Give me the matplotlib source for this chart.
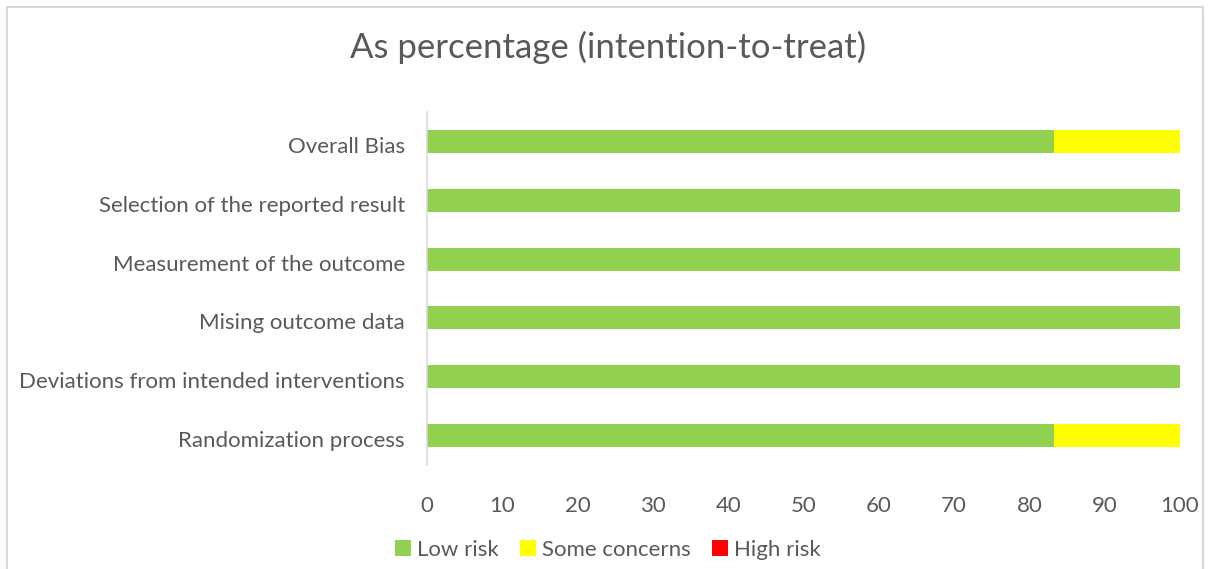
import matplotlib
matplotlib.use("Agg")
import matplotlib.pyplot as plt
import matplotlib.transforms as mtransforms
from matplotlib.patches import Rectangle, Patch

plt.rcParams['font.family'] = ['Lato', 'DejaVu Sans']

domains = ["Randomization process", "Deviations from intended interventions",
           "Mising outcome data", "Measurement of the outcome",
           "Selection of the reported result", "Overall Bias"]
low_risk = [83.33, 100, 100, 100, 100, 83.33]
some_concerns = [16.67, 0, 0, 0, 0, 16.67]
high_risk = [0, 0, 0, 0, 0, 0]

series = ["Low risk", "Some concerns", "High risk"]
colors = ["#92D050", "#FFFF00", "#FF0000"]
text_col = "#595959"

fig = plt.figure(figsize=(12.09, 5.69), dpi=100)
ax = fig.add_axes([0.3532, 0.1828, 0.6228, 0.6204])

ypos = list(range(len(domains)))
left = [0] * len(domains)
for vals, col in zip([low_risk, some_concerns, high_risk], colors):
    ax.barh(ypos, vals, height=0.39, left=left, color=col)
    left = [a + b for a, b in zip(left, vals)]

ax.set_xlim(0, 100)
ax.set_ylim(-0.5, len(domains) - 0.5)
ax.set_xticks(range(0, 101, 10))
ax.set_yticks(ypos)
ax.set_yticklabels(domains, va='center_baseline')
ax.tick_params(axis='both', length=0, labelsize=16, colors=text_col)
ax.tick_params(axis='x', pad=22.5)
ax.tick_params(axis='y', pad=16)
# category labels sit a little below the bar centres
shift = mtransforms.ScaledTranslation(0, -0.035, fig.dpi_scale_trans)
for lbl in ax.get_yticklabels():
    lbl.set_transform(lbl.get_transform() + shift)
for s in ["top", "right", "bottom"]:
    ax.spines[s].set_visible(False)
ax.spines["left"].set_color("#D9D9D9")
ax.spines["left"].set_linewidth(1.2)

fig.text(0.503, 0.917, "As percentage (intention-to-treat)", ha='center', va='center',
         fontsize=25, color=text_col)

handles = [Patch(facecolor=c, edgecolor='none') for c in colors]
fig.legend(handles, series, loc='center', bbox_to_anchor=(0.503, 0.034), ncol=3,
           frameon=False, fontsize=16, handlelength=0.7, handleheight=0.7,
           handletextpad=0.3, columnspacing=0.95, labelcolor=text_col)

# outer chart frame
fig.patches.append(Rectangle((7 / 1209, -0.05), 1196 / 1209, 1 - 7 / 569 + 0.05,
                             transform=fig.transFigure, fill=False,
                             edgecolor="#D9D9D9", linewidth=1.5))

fig.savefig("out.png", dpi=100)
